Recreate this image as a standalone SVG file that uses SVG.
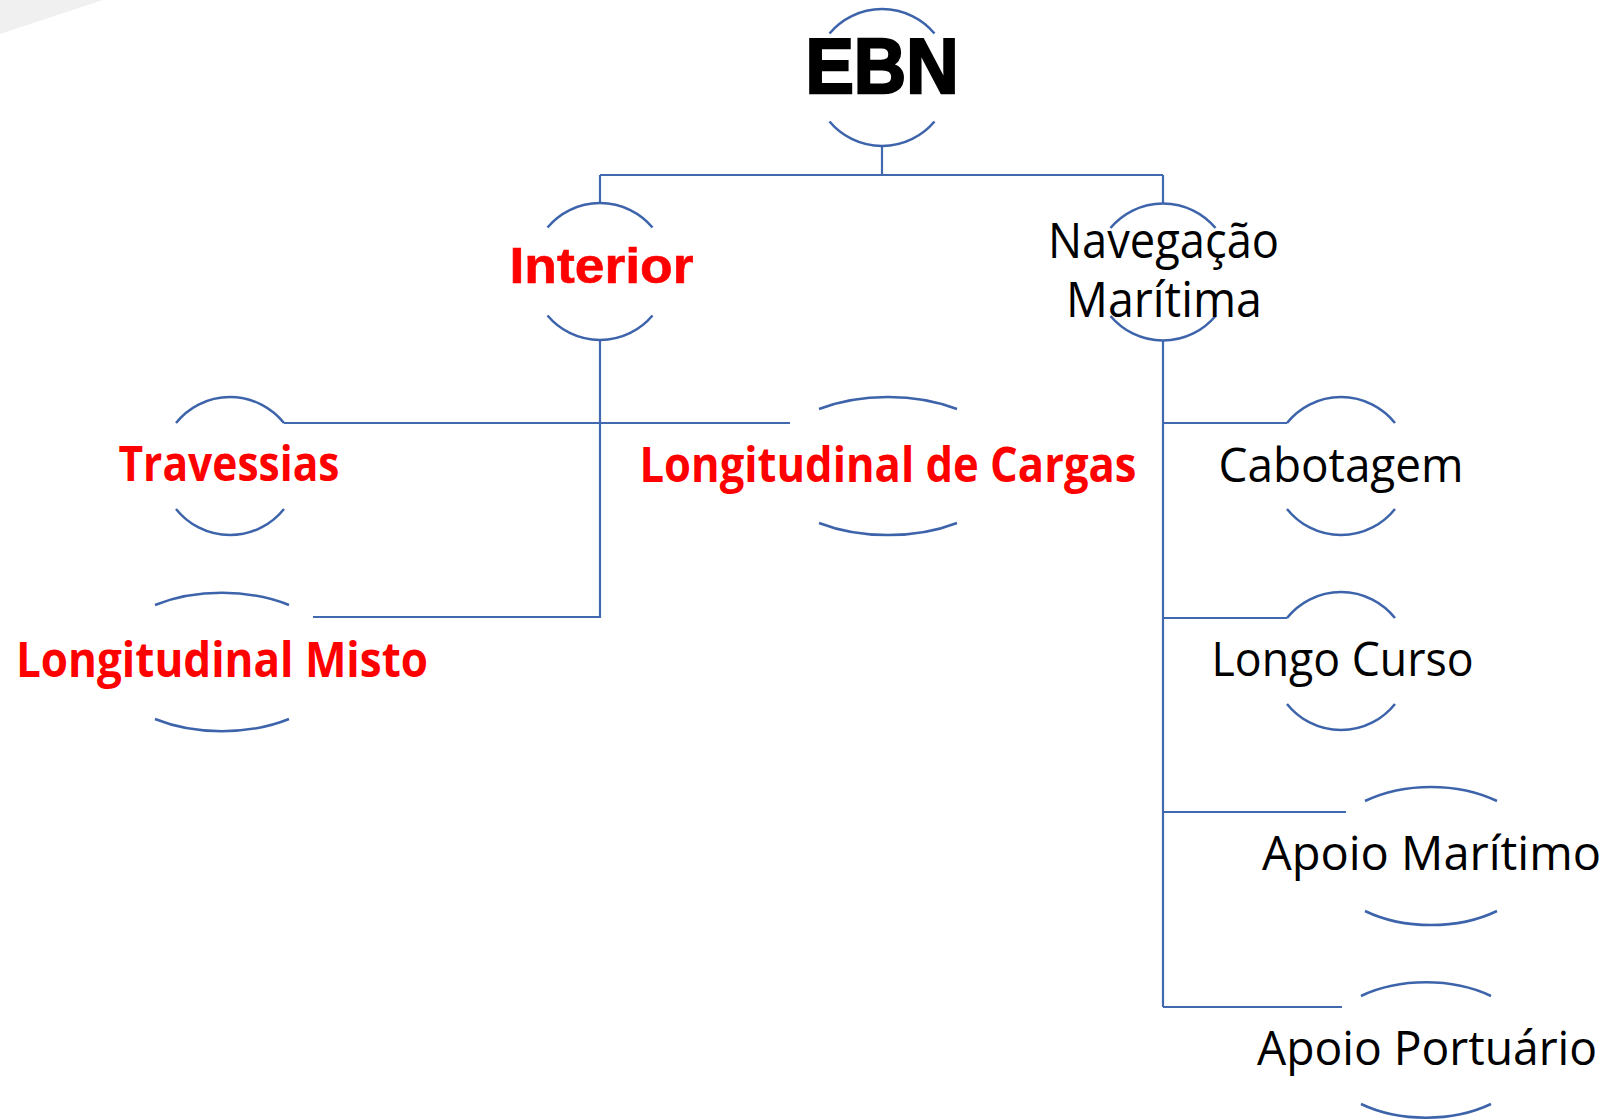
<svg xmlns="http://www.w3.org/2000/svg" width="1610" height="1119" viewBox="0 0 1610 1119">
<style>
.arc{fill:none;stroke:#3d64ab;stroke-width:2.5;}
.con{fill:none;stroke:#4169b0;stroke-width:2.2;}
.t{font-family:"Open Sans","Noto Sans",sans-serif;text-anchor:middle;}
.red{fill:#ff0000;font-weight:bold;}
.blk{fill:#000000;}
.geo{font-family:"Liberation Sans",Arial,sans-serif;font-weight:bold;text-anchor:middle;}
</style>
<rect width="1610" height="1119" fill="#ffffff"/>
<polygon points="0,0 103,0 0,34" fill="#f0f0f0"/>
<g id="connectors">
<path class="con" d="M882,146 V175 M600,175 H1163 M600,175 V203 M1163,175 V203"/>
<path class="con" d="M600,340 V617 H313 M284,423 H790"/>
<path class="con" d="M1163,341 V1007 M1163,423 H1287 M1163,618 H1287 M1163,812 H1346 M1163,1007 H1342"/>
</g>
<g id="node-ebn">
<path class="arc" d="M829.5,33.5 A68.5,68.5 0 0 1 934.5,33.5 M829.5,121.5 A68.5,68.5 0 0 0 934.5,121.5"/>
<text class="geo" x="882" y="93" font-size="77" fill="#000" stroke="#000" stroke-width="2.5" textLength="153" lengthAdjust="spacingAndGlyphs">EBN</text>
</g>
<g id="node-interior">
<path class="arc" d="M547.5,227.5 A68.5,68.5 0 0 1 652.5,227.5 M547.5,315.5 A68.5,68.5 0 0 0 652.5,315.5"/>
<text class="geo" x="601.5" y="283" font-size="50" fill="#ff0000" stroke="#ff0000" stroke-width="0.6" textLength="184" lengthAdjust="spacingAndGlyphs">Interior</text>
</g>
<g id="node-navegacao">
<path class="arc" d="M1110.5,228 A68.5,68.5 0 0 1 1215.5,228 M1110.5,316 A68.5,68.5 0 0 0 1215.5,316"/>
<text class="t blk" x="1163.5" y="258" font-size="49" textLength="231" lengthAdjust="spacingAndGlyphs">Navegação</text>
<text class="t blk" x="1164" y="317" font-size="49" textLength="196" lengthAdjust="spacingAndGlyphs">Marítima</text>
</g>
<g id="node-travessias">
<path class="arc" d="M176,423 A69,69 0 0 1 284,423 M176,509 A69,69 0 0 0 284,509"/>
<text class="t red" x="229" y="481" font-size="48" textLength="221" lengthAdjust="spacingAndGlyphs">Travessias</text>
</g>
<g id="node-longitudinal-cargas">
<path class="arc" d="M819,409 A122,69 0 0 1 957,409 M819,523 A122,69 0 0 0 957,523"/>
<text class="t red" x="888" y="482" font-size="48" textLength="497" lengthAdjust="spacingAndGlyphs">Longitudinal de Cargas</text>
</g>
<g id="node-longitudinal-misto">
<path class="arc" d="M155,605 A118,69 0 0 1 289,605 M155,719 A118,69 0 0 0 289,719"/>
<text class="t red" x="222" y="677" font-size="48" textLength="412" lengthAdjust="spacingAndGlyphs">Longitudinal Misto</text>
</g>
<g id="node-cabotagem">
<path class="arc" d="M1287,423 A69,69 0 0 1 1395,423 M1287,509 A69,69 0 0 0 1395,509"/>
<text class="t blk" x="1341" y="482" font-size="48" textLength="245" lengthAdjust="spacingAndGlyphs">Cabotagem</text>
</g>
<g id="node-longo-curso">
<path class="arc" d="M1287,618 A69,69 0 0 1 1395,618 M1287,704 A69,69 0 0 0 1395,704"/>
<text class="t blk" x="1342.5" y="676" font-size="48" textLength="262" lengthAdjust="spacingAndGlyphs">Longo Curso</text>
</g>
<g id="node-apoio-maritimo">
<path class="arc" d="M1365,801 A109,69 0 0 1 1497,801 M1365,911 A109,69 0 0 0 1497,911"/>
<text class="t blk" x="1431.5" y="870" font-size="48" textLength="339" lengthAdjust="spacingAndGlyphs">Apoio Marítimo</text>
</g>
<g id="node-apoio-portuario">
<path class="arc" d="M1361,996 A108,68 0 0 1 1491,996 M1361,1104 A108,68 0 0 0 1491,1104"/>
<text class="t blk" x="1427" y="1065" font-size="48" textLength="340" lengthAdjust="spacingAndGlyphs">Apoio Portuário</text>
</g>
</svg>
